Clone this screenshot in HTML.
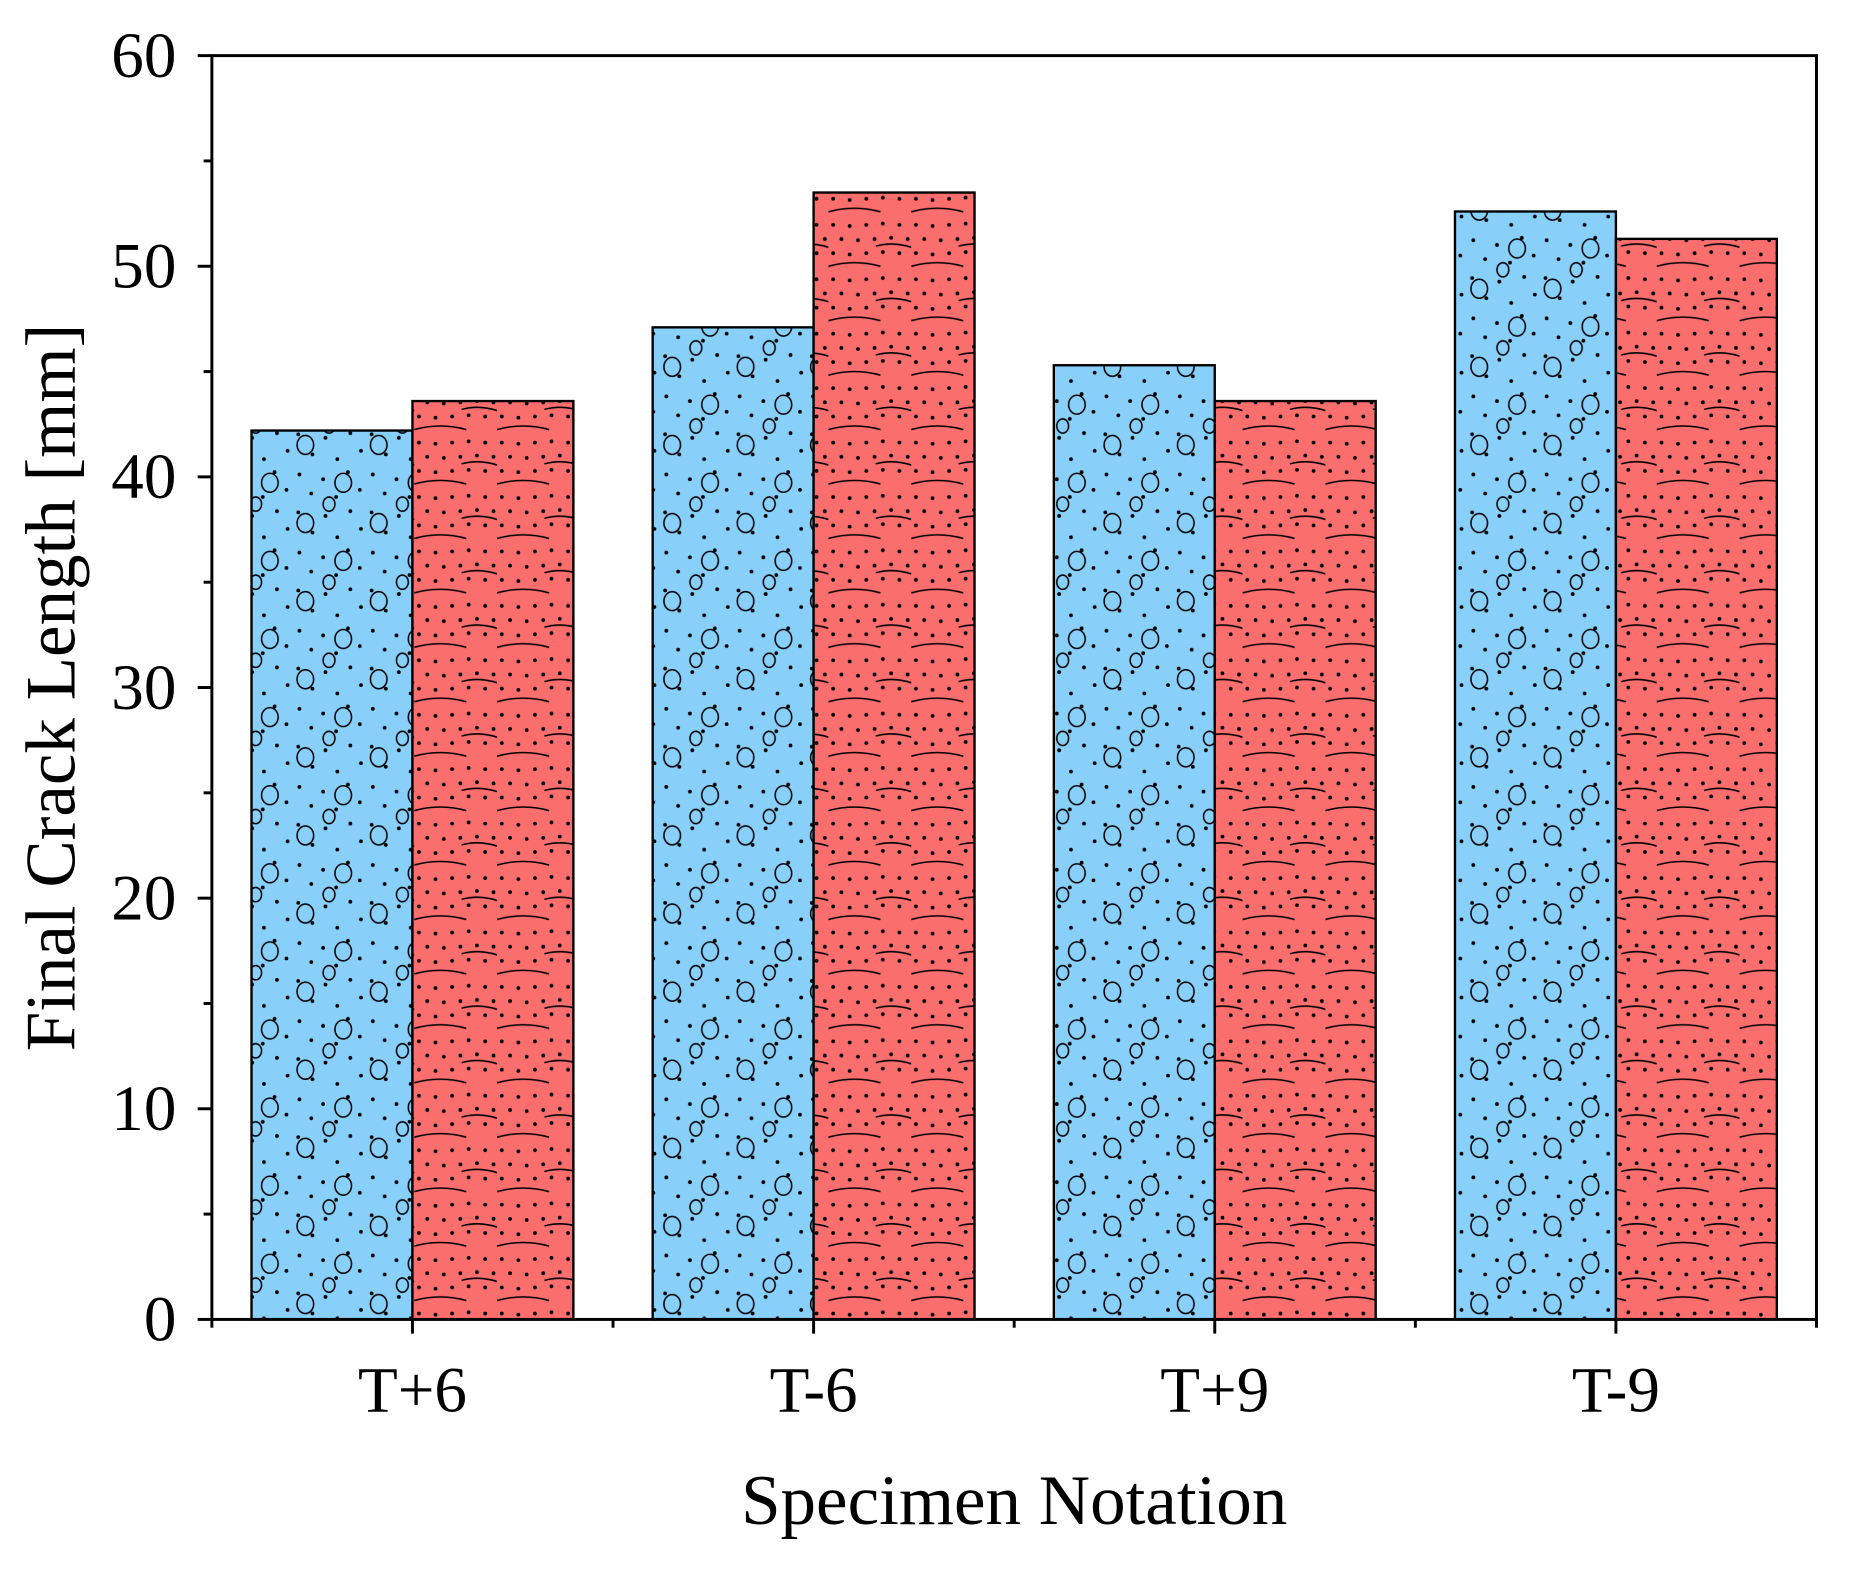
<!DOCTYPE html>
<html><head><meta charset="utf-8">
<style>html,body{margin:0;padding:0;background:#fff}svg{display:block}</style></head>
<body>
<svg id="chart" width="1855" height="1571" viewBox="0 0 1567.5 1327.6" xmlns="http://www.w3.org/2000/svg" font-family="'Liberation Serif', serif">
<defs>
<pattern id="pBlue" patternUnits="userSpaceOnUse" width="62" height="66">
<rect width="62" height="66" fill="#88CFFA"/>
<g fill="#000">
<circle cx="5" cy="5" r="1.6"/><circle cx="25" cy="9" r="1.6"/><circle cx="46" cy="3" r="1.6"/>
<circle cx="15" cy="21" r="1.6"/><circle cx="36" cy="24" r="1.6"/><circle cx="56" cy="18" r="1.6"/>
<circle cx="4" cy="37" r="1.6"/><circle cx="27" cy="40" r="1.6"/><circle cx="48" cy="36" r="1.6"/>
<circle cx="16" cy="54" r="1.6"/><circle cx="37" cy="58" r="1.6"/><circle cx="57" cy="51" r="1.6"/>
</g>
<g fill="none" stroke="#000" stroke-width="1.3">
<ellipse cx="42" cy="12" rx="7" ry="8"/><ellipse cx="10" cy="46" rx="7" ry="8"/><ellipse cx="30" cy="30" rx="5" ry="6"/>
</g>
</pattern>
<pattern id="pRed" patternUnits="userSpaceOnUse" width="70" height="46">
<rect width="70" height="46" fill="#FA6E6E"/>
<g fill="#000">
<circle cx="4" cy="6" r="1.6"/><circle cx="18" cy="7" r="1.6"/><circle cx="32" cy="6" r="1.6"/><circle cx="46" cy="5" r="1.6"/><circle cx="60" cy="6" r="1.6"/>
<circle cx="11" cy="18" r="1.6"/><circle cx="25" cy="19" r="1.6"/><circle cx="39" cy="18" r="1.6"/><circle cx="53" cy="17" r="1.6"/><circle cx="67" cy="18" r="1.6"/>
<circle cx="4" cy="30" r="1.6"/><circle cx="18" cy="31" r="1.6"/><circle cx="32" cy="30" r="1.6"/><circle cx="46" cy="29" r="1.6"/><circle cx="60" cy="30" r="1.6"/>
</g>
<path d="M0 41 Q22 35 44 41 M40 24 Q55 20 70 25" fill="none" stroke="#000" stroke-width="1.3"/>
</pattern>
</defs>
<g id="plotg"></g>
<rect x="179" y="47" width="1356" height="1068" fill="none" stroke="#000" stroke-width="2.5"/>
<g id="axesg"></g>
<text transform="translate(63,581) rotate(-90)" text-anchor="middle" font-size="60">Final Crack Length [mm]</text>
<text x="857" y="1288" text-anchor="middle" font-size="60">Specimen Notation</text>
</svg>
<script>
var categories=["T+6","T-6","T+9","T-9"];
var seriesBlue=[42.2,47.1,45.3,52.6];
var seriesRed=[43.6,53.5,43.6,51.3];
var yTicks=[0,10,20,30,40,50,60];
var NS="http://www.w3.org/2000/svg";
var PL=179,PR=1535,PT=47,PB=1115,yMax=60;
var bw=(PR-PL)/categories.length;
function ys(v){return PB-(v/yMax)*(PB-PT);}
function xc(i){return PL+bw*(i+0.5);}
var barW=136;
var plotG=document.getElementById('plotg'),axesG=document.getElementById('axesg');
function mk(tag,attrs,parent){var e=document.createElementNS(NS,tag);for(var k in attrs)e.setAttribute(k,attrs[k]);parent.appendChild(e);return e;}
categories.forEach(function(c,i){
 var b=mk('rect',{x:xc(i)-barW,y:ys(seriesBlue[i]),width:barW,height:PB-ys(seriesBlue[i]),fill:'url(#pBlue)',stroke:'#000','stroke-width':2},plotG);
 
 
 var r=mk('rect',{x:xc(i),y:ys(seriesRed[i]),width:barW,height:PB-ys(seriesRed[i]),fill:'url(#pRed)',stroke:'#000','stroke-width':2},plotG);
 
 
 var t=mk('text',{x:xc(i),y:1193,'text-anchor':'middle','font-size':55},axesG);
 t.textContent=c;
 
 
 mk('line',{x1:xc(i),x2:xc(i),y1:PB,y2:PB+12,stroke:'#000','stroke-width':2.5},axesG);
});
for(var i=0;i<=categories.length;i++){mk('line',{x1:PL+bw*i,x2:PL+bw*i,y1:PB,y2:PB+7,stroke:'#000','stroke-width':2.5},axesG);}
yTicks.forEach(function(v){
 mk('line',{x1:PL-12,x2:PL,y1:ys(v),y2:ys(v),stroke:'#000','stroke-width':2.5},axesG);
 var t=mk('text',{x:PL-30,y:ys(v)+18,'text-anchor':'end','font-size':55},axesG);
 t.textContent=String(v);
 
 
 if(v<yMax)mk('line',{x1:PL-7,x2:PL,y1:ys(v+5),y2:ys(v+5),stroke:'#000','stroke-width':2.5},axesG);
});
</script>
</body></html>
